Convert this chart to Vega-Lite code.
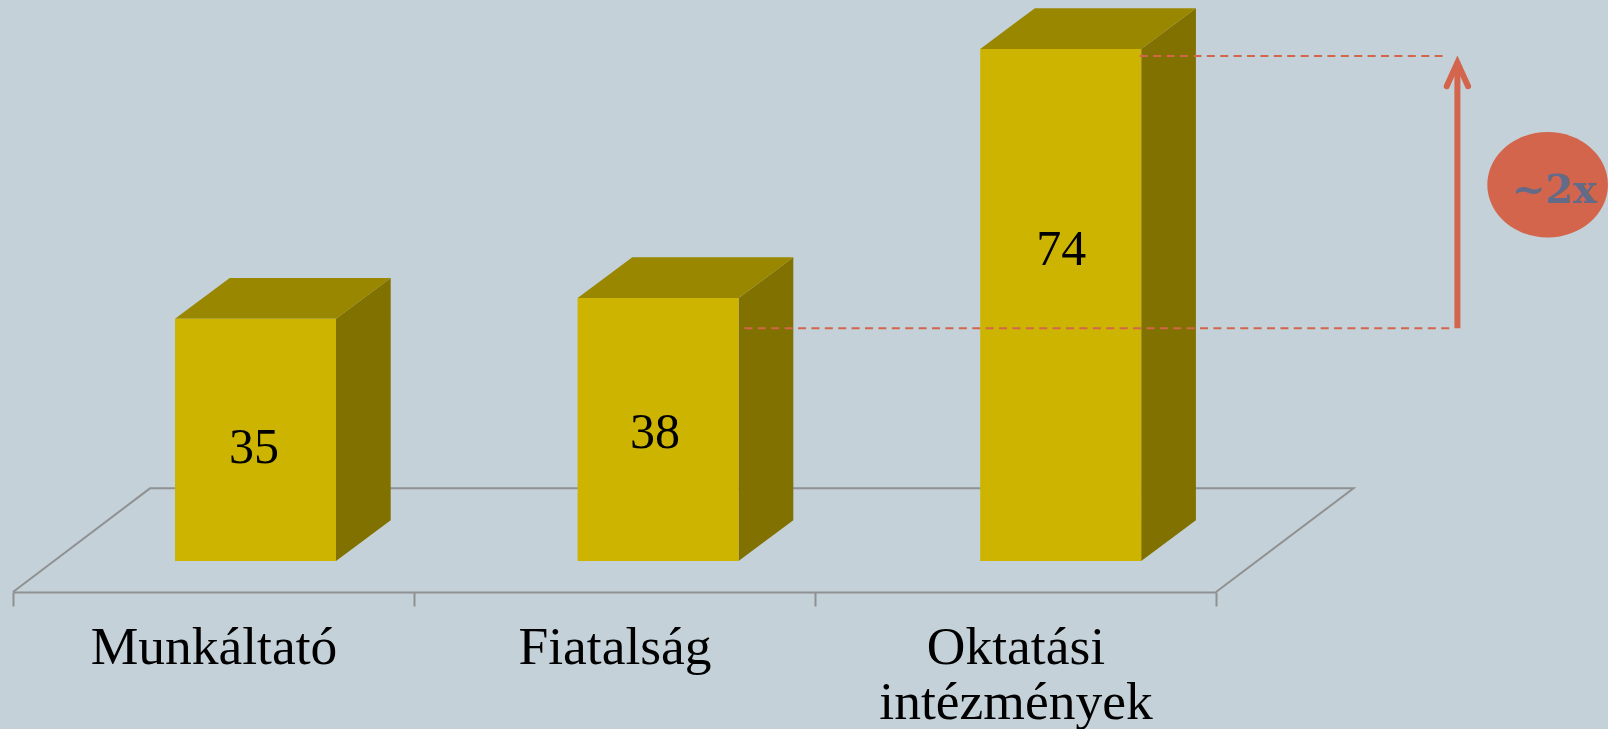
{
"$schema":"https://vega.github.io/schema/vega-lite/v6.json",
"width":1203,"height":592,"autosize":{"type":"none"},
"padding":{"left":13,"right":392,"top":0,"bottom":137},
"background":"#c5d1d8",
"config":{"view":{"stroke":null}},
"datasets":{
"bars":[
{"category":"Munkáltató","pos":0,"value":35,"labelPos":0.601,"labelValue":16.3},
{"category":"Fiatalság","pos":1,"value":38,"labelPos":1.601,"labelValue":18.5},
{"category":"Oktatási intézmények","pos":2,"value":74,"labelPos":2.614,"labelValue":45.0}],
"floor":[{"order":1,"px":0,"py":-4.48},{"order":2,"px":0.3416,"py":10.5},{"order":3,"px":3.343,"py":10.5},{"order":4,"px":3,"py":-4.48}],
"dashes":[{"from":1.824,"to":3.591,"level":33.63},{"from":2.81,"to":3.565,"level":72.98}],
"arrow":[{"at":3.602,"low":33.63,"high":72.02}],
"badge":[{"at":3.827,"level":54.38,"textAt":3.843,"textLevel":51.78,"label":"~2x"}]
},
"resolve":{"scale":{"x":"independent"}},
"layer":[
{"data":{"name":"bars"},
 "mark":{"type":"rule","opacity":0},
 "encoding":{
  "x":{"field":"category","type":"nominal","sort":null,"scale":{"paddingInner":0,"paddingOuter":0},
   "axis":{"title":null,"tickBand":"extent","labelAngle":0,"labelExpr":"split(datum.label,' ')","labelFont":"Liberation Serif","labelFontSize":53.5,"labelColor":"#000000","labelLineHeight":55,"labelPadding":15,"labelLimit":0,"labelBaseline":"top","labelOverlap":false,"labelBound":false,"tickSize":14,"tickColor":"#8f9192","tickWidth":2,"domainColor":"#8f9192","domainWidth":2,"grid":false}},
  "y":{"datum":0,"type":"quantitative","scale":{"domain":[-4.48,81.07],"nice":false,"zero":false},"axis":null}
 }},
{"layer":[
 {"data":{"name":"floor"},"mark":{"type":"line","color":"#8f9192","strokeWidth":2},
  "encoding":{"x":{"field":"px","type":"quantitative","scale":{"domain":[0,3],"nice":false,"zero":false},"axis":null},
   "y":{"field":"py","type":"quantitative","axis":null},"order":{"field":"order"}}},
 {"data":{"name":"bars"},
  "transform":[{"calculate":"[0,1]","as":"corner"},{"flatten":["corner"]},
   {"calculate":"datum.pos*1.004+0.404+0.4015+datum.corner*0.1364","as":"sx"},
   {"calculate":"datum.value+datum.corner*5.88","as":"sTop"},
   {"calculate":"datum.corner*5.88","as":"sBottom"}],
  "mark":{"type":"area","color":"#807100"},
  "encoding":{"x":{"field":"sx","type":"quantitative","axis":null},
   "y":{"field":"sTop","type":"quantitative","axis":null,"stack":null},"y2":{"field":"sBottom"},"detail":{"field":"category"}}},
 {"data":{"name":"bars"},
  "transform":[{"calculate":"[0,1]","as":"corner"},{"flatten":["corner"]},
   {"calculate":"datum.pos*1.004+0.404+datum.corner*0.1364","as":"tx"},
   {"calculate":"datum.tx+0.4015","as":"tx2"},
   {"calculate":"datum.value+datum.corner*5.88","as":"tTop"}],
  "mark":{"type":"area","orient":"horizontal","color":"#998700"},
  "encoding":{"x":{"field":"tx","type":"quantitative","axis":null,"stack":null},"x2":{"field":"tx2"},
   "y":{"field":"tTop","type":"quantitative","axis":null},"detail":{"field":"category"}}},
 {"data":{"name":"bars"},
  "transform":[{"calculate":"datum.pos*1.004+0.404","as":"fx"},{"calculate":"datum.fx+0.4015","as":"fx2"}],
  "mark":{"type":"rect","color":"#ccb400"},
  "encoding":{"x":{"field":"fx","type":"quantitative","axis":null},"x2":{"field":"fx2"},
   "y":{"field":"value","type":"quantitative","axis":null},"y2":{"datum":0}}},
 {"data":{"name":"dashes"},"mark":{"type":"rule","color":"#d2654b","strokeWidth":2,"strokeDash":[8,5.4]},
  "encoding":{"x":{"field":"from","type":"quantitative","axis":null},"x2":{"field":"to"},"y":{"field":"level","type":"quantitative","axis":null}}},
 {"data":{"name":"arrow"},"mark":{"type":"rule","color":"#d2654b","strokeWidth":6},
  "encoding":{"x":{"field":"at","type":"quantitative","axis":null},"y":{"field":"low","type":"quantitative","axis":null},"y2":{"field":"high"}}},
 {"data":{"name":"arrow"},"mark":{"type":"point","shape":"M-1,2.2L0,0L1,2.2","size":458,"filled":false,"fill":null,"stroke":"#d2654b","strokeWidth":6,"strokeCap":"round","opacity":1},
  "encoding":{"x":{"field":"at","type":"quantitative","axis":null},"y":{"field":"high","type":"quantitative","axis":null}}},
 {"data":{"name":"badge"},"mark":{"type":"point","shape":"M-1,0A1,0.874,0,1,1,1,0A1,0.874,0,1,1,-1,0Z","size":14544,"filled":true,"color":"#d2654b","opacity":1},
  "encoding":{"x":{"field":"at","type":"quantitative","axis":null},"y":{"field":"level","type":"quantitative","axis":null}}},
 {"data":{"name":"badge"},"mark":{"type":"text","font":"DejaVu Serif","fontWeight":"bold","fontSize":40,"color":"#636b88","align":"center","baseline":"alphabetic"},
  "encoding":{"x":{"field":"textAt","type":"quantitative","axis":null},"y":{"field":"textLevel","type":"quantitative","axis":null},"text":{"field":"label"}}},
 {"data":{"name":"bars"},"mark":{"type":"text","font":"Liberation Serif","fontSize":50,"color":"#000000","align":"center","baseline":"middle"},
  "encoding":{"x":{"field":"labelPos","type":"quantitative","axis":null},"y":{"field":"labelValue","type":"quantitative","axis":null},"text":{"field":"value"}}}
]}
]}
